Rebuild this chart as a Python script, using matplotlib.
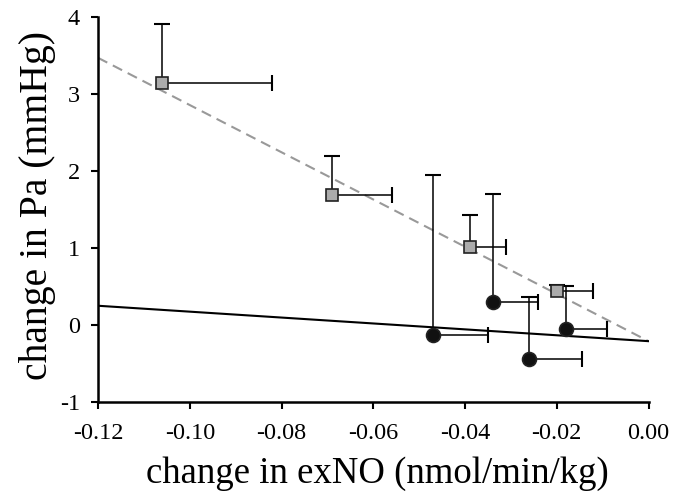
import numpy as np
import matplotlib
matplotlib.use('Agg')
import matplotlib.pyplot as plt

# grey squares
x_sq = [-0.106, -0.069, -0.039, -0.020]
y_sq = [3.14, 1.69, 1.01, 0.44]
xerr_sq = [0.024, 0.013, 0.008, 0.008]
yerr_sq = [0.77, 0.50, 0.42, 0.08]

# black circles
x_ci = [-0.047, -0.034, -0.026, -0.018]
y_ci = [-0.13, 0.30, -0.44, -0.05]
xerr_ci = [0.012, 0.010, 0.0116, 0.009]
yerr_ci = [2.08, 1.40, 0.80, 0.56]

# regression lines (ends)
fit_x = [-0.12, 0.0]
fit_sq = [3.47, -0.21]
fit_ci = [0.25, -0.21]

xticks = [-0.12, -0.10, -0.08, -0.06, -0.04, -0.02, 0.00]
yticks = [-1, 0, 1, 2, 3, 4]

plt.rcParams['font.family'] = ['Liberation Serif', 'DejaVu Serif']
plt.rcParams['axes.unicode_minus'] = False

fig = plt.figure(figsize=(6.83, 5.0), dpi=100)
ax = fig.add_axes([0.1435, 0.196, 0.806, 0.770])

ax.plot(fit_x, fit_sq, color='#999999', ls=(0, (5, 3)), lw=1.5, zorder=1)
ax.plot(fit_x, fit_ci, color='black', lw=1.5, zorder=1)

def draw(x, y, xerr, yerr, marker, face, ms):
    x = np.array(x); y = np.array(y)
    xe = x + np.array(xerr)
    ye = y + np.array(yerr)
    ax.hlines(y, x, xe, color='black', lw=1.1, zorder=2)
    ax.vlines(x, y, ye, color='black', lw=1.1, zorder=2)
    ax.plot(xe, y, ls='none', marker='|', ms=11, mew=1.5, color='black', zorder=2)
    ax.plot(x, ye, ls='none', marker='_', ms=11, mew=1.5, color='black', zorder=2)
    ax.plot(x, y, ls='none', marker=marker, ms=ms, mfc=face, mec='#222222',
            mew=1.2, zorder=3)

draw(x_sq, y_sq, xerr_sq, yerr_sq, 's', '#ababab', 9)
draw(x_ci, y_ci, xerr_ci, yerr_ci, 'o', '#111111', 10)

ax.set_xlim(-0.12, 0.0)
ax.set_ylim(-1, 4)
ax.set_xticks(xticks)
ax.set_xticklabels(['%.2f' % t for t in xticks])
ax.set_yticks(yticks)
ax.spines['top'].set_visible(False)
ax.spines['right'].set_visible(False)
ax.spines['left'].set_linewidth(1.8)
ax.spines['bottom'].set_linewidth(1.8)
ax.tick_params(direction='out', length=5, width=1.5, labelsize=17.5)
ax.tick_params(axis='x', pad=10)
ax.tick_params(axis='y', pad=8)

ax.set_xlabel('change in exNO (nmol/min/kg)', fontsize=26.5, va='top')
ax.set_ylabel('change in Pa (mmHg)', fontsize=28.5)
ax.xaxis.set_label_coords(0.507, -0.142)
ax.yaxis.set_label_coords(-0.077, 0.51)

fig.savefig('out.png', dpi=100)
